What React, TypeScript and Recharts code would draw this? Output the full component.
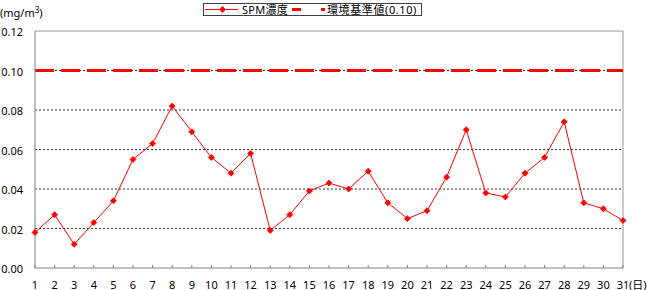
import React from 'react';
import { LineChart, Line, XAxis, YAxis, CartesianGrid, ReferenceLine, Legend } from 'recharts';

const days = [1, 2, 3, 4, 5, 6, 7, 8, 9, 10, 11, 12, 13, 14, 15, 16, 17, 18, 19, 20, 21, 22, 23, 24, 25, 26, 27, 28, 29, 30, 31];
const spmValues = [
  0.018, 0.027, 0.012, 0.023, 0.034, 0.055, 0.063, 0.082, 0.069, 0.056, 0.048,
  0.058, 0.019, 0.027, 0.039, 0.043, 0.040, 0.049, 0.033, 0.025, 0.029, 0.046,
  0.070, 0.038, 0.036, 0.048, 0.056, 0.074, 0.033, 0.030, 0.024,
];
const yTicks = [0, 0.02, 0.04, 0.06, 0.08, 0.1, 0.12];
const gridValues = [0.02, 0.04, 0.06, 0.08, 0.1];
const STANDARD = 0.1;
const TOP = 0.12;
const seriesName = 'SPM濃度';
const standardName = '環境基準値(0.10)';
const unitText = '(mg/m';
const dayUnit = '(日)';

const data = days.map((d, i) => ({ day: d, spm: spmValues[i] }));

const FONT = '"Noto Sans", "Noto Sans CJK JP", sans-serif';
const RED = '#ff0000';

const Diamond = (props: any) => {
  const { cx, cy } = props;
  if (cx == null || cy == null) return null;
  const s = 3;
  return (
    <polygon
      points={`${cx},${cy - s} ${cx + s},${cy} ${cx},${cy + s} ${cx - s},${cy}`}
      fill={RED}
      stroke={RED}
      strokeWidth={0.8}
    />
  );
};

const XTick = (props: any) => {
  const { x, y, payload, index } = props;
  const last = index === days.length - 1;
  return (
    <g>
      <text x={x} y={y} dy={23.5} textAnchor="middle" fontSize={11} fill="#000" fontFamily={FONT}>
        {payload.value}
      </text>
      {last && (
        <text x={x + 6} y={y} dy={23.5} textAnchor="start" fontSize={11} fill="#000" fontFamily={FONT}>
          {dayUnit}
        </text>
      )}
    </g>
  );
};

const YTick = (props: any) => {
  const { x, y, payload } = props;
  return (
    <text x={x} y={y} dy={5} textAnchor="end" fontSize={11} fill="#000" fontFamily={FONT}>
      {Number(payload.value).toFixed(2)}
    </text>
  );
};

const LegendBox = () => (
  <svg width={220} height={14} style={{ display: 'block' }}>
    <rect x={0.5} y={0.5} width={218} height={12} fill="#fff" stroke="#404040" />
    <line x1={2} x2={35} y1={6.5} y2={6.5} stroke={RED} strokeWidth={1} />
    <Diamond cx={19.5} cy={6.5} />
    <text x={39} y={10.5} fontSize={11} fontFamily={FONT} fill="#000" letterSpacing={0.3}>{seriesName}</text>
    <line x1={89} x2={122} y1={6.5} y2={6.5} stroke={RED} strokeWidth={3} strokeDasharray="9 20" />
    <text x={124} y={10.5} fontSize={11} fontFamily={FONT} fill="#000" letterSpacing={0.6}>{standardName}</text>
  </svg>
);

export default function App() {
  return (
    <div style={{ position: 'absolute', left: 0, top: 0, width: 650, height: 290, background: '#fff' }}>
      <div
        style={{
          position: 'absolute',
          left: 0,
          top: 6,
          fontSize: 11,
          fontFamily: FONT,
          color: '#000',
          lineHeight: '14px',
          zIndex: 2,
        }}
      >
        {unitText}
        <sup style={{ fontSize: 8, verticalAlign: 'top', position: 'relative', top: -3 }}>3</sup>)
      </div>
      <LineChart
        width={650}
        height={290}
        data={data}
        margin={{ top: 31, right: 27, bottom: 0, left: 0 }}
      >
        <CartesianGrid
          horizontal
          vertical={false}
          horizontalValues={gridValues}
          stroke="#333"
          strokeDasharray="2 2"
        />
        <XAxis
          dataKey="day"
          type="category"
          height={22}
          interval={0}
          axisLine={{ stroke: '#808080' }}
          tickLine={{ stroke: '#808080' }}
          tickSize={-3}
          tickMargin={0}
          tick={<XTick />}
          padding={{ left: 0, right: 0 }}
        />
        <YAxis
          width={35}
          domain={[0, TOP]}
          ticks={yTicks}
          allowDataOverflow
          axisLine={{ stroke: '#808080' }}
          tickLine={false}
          tickSize={0}
          tickMargin={12}
          tick={<YTick />}
        />
        <ReferenceLine y={TOP} stroke="#999" strokeWidth={1} />
        <ReferenceLine x={31} stroke="#999" strokeWidth={1} />
        <ReferenceLine y={STANDARD} stroke={RED} strokeWidth={3} strokeDasharray="19 7" />
        <Legend
          layout="horizontal"
          verticalAlign="middle"
          align="center"
          wrapperStyle={{ top: 3, left: 203, width: 220, height: 14 }}
          content={() => <LegendBox />}
        />
        <Line
          type="linear"
          dataKey="spm"
          name={seriesName}
          stroke={RED}
          strokeWidth={1}
          dot={<Diamond />}
          activeDot={false}
          isAnimationActive={false}
        />
      </LineChart>
    </div>
  );
}
